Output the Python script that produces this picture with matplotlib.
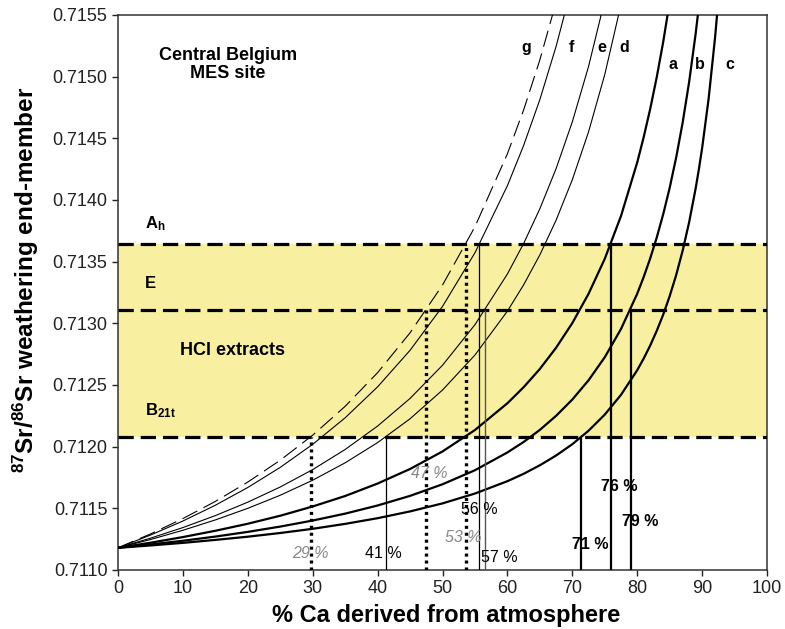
import matplotlib
matplotlib.use('Agg')
import matplotlib.pyplot as plt

plt.rcParams['font.family'] = ['Liberation Sans', 'DejaVu Sans']
plt.rcParams['mathtext.fontset'] = 'custom'
plt.rcParams['mathtext.rm'] = 'Liberation Sans'
plt.rcParams['mathtext.bf'] = 'Liberation Sans:bold'
plt.rcParams['mathtext.it'] = 'Liberation Sans:italic'
plt.rcParams['lines.scale_dashes'] = False

# % Ca derived from atmosphere (x positions)
pct = [0, 5, 10, 15, 20, 25, 30, 35, 40, 45, 50, 55, 60, 62.5, 65, 67.5, 70, 72.5,
       75, 77.5, 80, 81, 82, 83, 84, 85, 86, 87, 88, 89, 89.5, 90, 91, 92, 92.5]

# 87Sr/86Sr of weathering end-member for each curve
sr_a = [0.711180, 0.711221, 0.711267, 0.711318, 0.711375, 0.711440, 0.711515, 0.711600,
        0.711701, 0.711819, 0.711961, 0.712135, 0.712352, 0.712482, 0.712630, 0.712802,
        0.713002, 0.713239, 0.713523, 0.713870, 0.714304, 0.714510, 0.714738, 0.714993,
        0.715280, 0.715606]
sr_b = [0.711180, 0.711207, 0.711237, 0.711271, 0.711309, 0.711352, 0.711401, 0.711457,
        0.711523, 0.711601, 0.711695, 0.711809, 0.711953, 0.712038, 0.712136, 0.712250,
        0.712382, 0.712538, 0.712725, 0.712954, 0.713240, 0.713376, 0.713526, 0.713694,
        0.713884, 0.714098, 0.714344, 0.714627, 0.714957, 0.715347, 0.715570]
sr_c = [0.711180, 0.711199, 0.711220, 0.711244, 0.711270, 0.711300, 0.711334, 0.711374,
        0.711420, 0.711475, 0.711540, 0.711620, 0.711720, 0.711780, 0.711849, 0.711928,
        0.712020, 0.712129, 0.712260, 0.712420, 0.712620, 0.712715, 0.712820, 0.712938,
        0.713070, 0.713220, 0.713391, 0.713589, 0.713820, 0.714093, 0.714249, 0.714420,
        0.714820, 0.715320, 0.715620]
sr_d = [0.711180, 0.711247, 0.711322, 0.711406, 0.711500, 0.711606, 0.711728, 0.711869,
        0.712033, 0.712226, 0.712459, 0.712743, 0.713099, 0.713312, 0.713555, 0.713836,
        0.714164, 0.714552, 0.715017, 0.715585]
sr_e = [0.711180, 0.711258, 0.711344, 0.711441, 0.711550, 0.711673, 0.711814, 0.711977,
        0.712167, 0.712391, 0.712660, 0.712989, 0.713400, 0.713647, 0.713929, 0.714254,
        0.714633, 0.715082, 0.715620]
sr_f = [0.711180, 0.711283, 0.711397, 0.711525, 0.711669, 0.711832, 0.712019, 0.712234,
        0.712485, 0.712781, 0.713137, 0.713572, 0.714116, 0.714442, 0.714814, 0.715245,
        0.715746]
sr_g = [0.711180, 0.711292, 0.711417, 0.711556, 0.711713, 0.711890, 0.712093, 0.712327,
        0.712600, 0.712923, 0.713310, 0.713783, 0.714375, 0.714730, 0.715136, 0.715604]

# horizon values (B21t, E, Ah)
horizons = [0.71208, 0.71311, 0.71364]

# intersections marked with vertical lines
g_marks_x = [29.8, 47.5, 53.6]
g_marks_top = [0.71208, 0.71311, 0.71364]
thin_marks_x = [41.3, 55.7]
thin_marks_top = [0.71208, 0.71364]
grey_marks_x = [56.6]
grey_marks_top = [0.71311]
thick_marks_x = [71.4, 75.9, 79.0]
thick_marks_top = [0.71208, 0.71364, 0.71311]

fig = plt.figure(figsize=(7.85, 6.29), dpi=100)
ax = fig.add_axes([0.1503, 0.0938, 0.8268, 0.8824])

ax.axhspan(horizons[0], horizons[2], color='#F8F0A0', zorder=0, lw=0)

thick = dict(color='black', lw=1.6, zorder=3)
thin = dict(color='black', lw=0.8, zorder=3)
ax.plot(pct[:len(sr_a)], sr_a, **thick)
ax.plot(pct[:len(sr_b)], sr_b, **thick)
ax.plot(pct[:len(sr_c)], sr_c, **thick)
ax.plot(pct[:len(sr_d)], sr_d, **thin)
ax.plot(pct[:len(sr_e)], sr_e, **thin)
ax.plot(pct[:len(sr_f)], sr_f, **thin)
ax.plot(pct[:len(sr_g)], sr_g, color='black', lw=0.8, dashes=(12, 5), zorder=3)

for h in horizons:
    ax.plot([0, 100], [h, h], color='black', lw=2.3, dashes=(11, 5), zorder=4)

ax.vlines(g_marks_x, 0.7110, g_marks_top, colors='black', lw=2.4,
          linestyles=(0, (2.2, 2.8)), zorder=4)
ax.vlines(thin_marks_x, 0.7110, thin_marks_top, colors='black', lw=0.9, zorder=4)
ax.vlines(grey_marks_x, 0.7110, grey_marks_top, colors='#555555', lw=1.0, zorder=4)
ax.vlines(thick_marks_x, 0.7110, thick_marks_top, colors='black', lw=1.6, zorder=4)

# labels inside the plot
ax.text(16.9, 0.71510, 'Central Belgium\nMES site', ha='center', va='center',
        fontsize=13, fontweight='bold', linespacing=1.1)
ax.text(4.1, 0.71381, r'A$_{\mathbf{h}}$', ha='left', va='center', fontsize=12, fontweight='bold')
ax.text(4.1, 0.71332, 'E', ha='left', va='center', fontsize=12, fontweight='bold')
ax.text(17.6, 0.71278, 'HCl extracts', ha='center', va='center', fontsize=13, fontweight='bold')
ax.text(4.1, 0.71229, r'B$_{\mathbf{21t}}$', ha='left', va='center', fontsize=12, fontweight='bold')

for lab, x, y in [('g', 62.9, 0.71524), ('f', 69.8, 0.71524), ('e', 74.6, 0.71524),
                  ('d', 78.0, 0.71524), ('a', 85.5, 0.71510), ('b', 89.7, 0.71510),
                  ('c', 94.2, 0.71510)]:
    ax.text(x, y, lab, ha='center', va='center', fontsize=11.5, fontweight='bold')

for lab, x, y in [('29 %', 29.6, 0.71113), ('47 %', 48.0, 0.71178), ('53 %', 53.2, 0.71126)]:
    ax.text(x, y, lab, ha='center', va='center', fontsize=11.5, color='#888888',
            style='italic', zorder=5)
for lab, x, y in [('41 %', 40.9, 0.71113), ('56 %', 55.7, 0.71149), ('57 %', 58.7, 0.71110)]:
    ax.text(x, y, lab, ha='center', va='center', fontsize=11.5, zorder=5)
for lab, x, y in [('71 %', 72.8, 0.71121), ('76 %', 77.2, 0.71168), ('79 %', 80.4, 0.71139)]:
    ax.text(x, y, lab, ha='center', va='center', fontsize=11.5, fontweight='bold', zorder=5)

ax.set_xlim(0, 100)
ax.set_ylim(0.7110, 0.7155)
ax.set_xticks(range(0, 101, 10))
ax.set_yticks([0.7110 + 0.0005 * i for i in range(10)])
ax.set_yticklabels(['%.4f' % (0.7110 + 0.0005 * i) for i in range(10)])
ax.tick_params(direction='out', length=4, width=1, labelsize=13, colors='#222222')
for s in ax.spines.values():
    s.set_linewidth(1.1)
    s.set_color('#333333')

ax.set_xlabel('% Ca derived from atmosphere', fontsize=17, fontweight='bold')
ax.xaxis.set_label_coords(0.505, -0.062)
ax.set_ylabel(r'$^{\mathbf{87}}$Sr/$^{\mathbf{86}}$Sr weathering end-member',
              fontsize=17.5, fontweight='bold')
ax.yaxis.set_label_coords(-0.118, 0.522)

fig.savefig('out.png', dpi=100)
